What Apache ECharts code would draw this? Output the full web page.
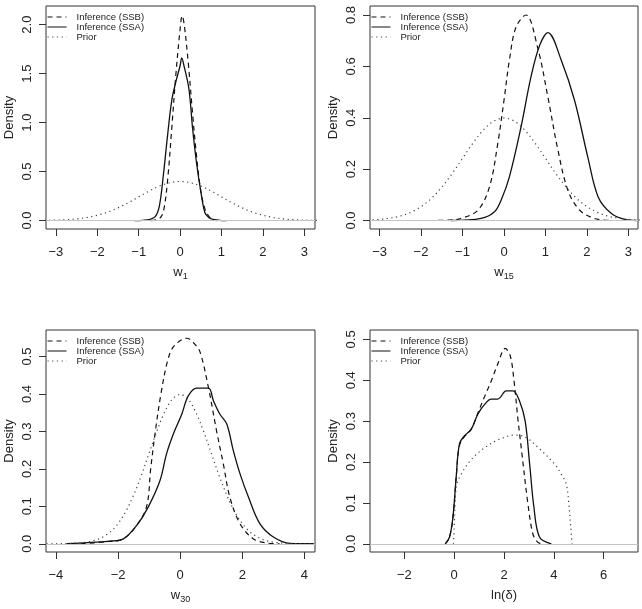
<!DOCTYPE html>
<html>
<head>
<meta charset="utf-8">
<script src="https://cdn.jsdelivr.net/npm/echarts@6/dist/echarts.min.js"></script>
<style>
  html, body { margin: 0; padding: 0; background: #fff; }
  #chart { width: 642px; height: 609px; }
</style>
</head>
<body>
<div id="chart"></div>
<script>
const priorX = [-4.3, -4, -3.5, -3, -2.75, -2.5, -2.25, -2, -1.75, -1.5, -1.25, -1, -0.75, -0.5, -0.25, 0,
  0.25, 0.5, 0.75, 1, 1.25, 1.5, 1.75, 2, 2.25, 2.5, 2.75, 3, 3.5, 4, 4.3];
const priorY = [0, 0.0001, 0.0009, 0.0044, 0.0091, 0.0175, 0.0317, 0.054, 0.0863, 0.13, 0.1826, 0.242, 0.3011, 0.352, 0.3867, 0.399,
  0.3867, 0.352, 0.3011, 0.242, 0.1826, 0.13, 0.0863, 0.054, 0.0317, 0.0175, 0.0091, 0.0044, 0.0009, 0.0001, 0];

// w1
const w1SsbX = [-0.7, -0.5, -0.4, -0.3, -0.2, -0.1, 0, 0.05, 0.1, 0.2, 0.3, 0.4, 0.5, 0.6, 0.7, 0.8, 0.9];
const w1SsbY = [0, 0.02, 0.1, 0.42, 0.95, 1.5, 1.95, 2.09, 2.0, 1.6, 1.1, 0.65, 0.3, 0.12, 0.04, 0.01, 0];
const w1SsaX = [-1.1, -0.9, -0.75, -0.6, -0.5, -0.4, -0.3, -0.2, -0.1, 0, 0.04, 0.1, 0.2, 0.25, 0.3, 0.4, 0.5, 0.6, 0.7, 0.8, 0.95, 1.12];
const w1SsaY = [0, 0.003, 0.01, 0.04, 0.15, 0.48, 0.88, 1.23, 1.42, 1.58, 1.66, 1.57, 1.38, 1.2, 0.95, 0.58, 0.3, 0.08, 0.03, 0.012, 0.003, 0];

// w15
const w15SsbX = [-1.8, -1.3, -1.04, -0.63, -0.35, -0.15, 0, 0.13, 0.29, 0.53, 0.82, 1.06, 1.3, 1.54, 1.82, 2.18, 2.6];
const w15SsbY = [0, 0.002, 0.008, 0.04, 0.131, 0.3, 0.468, 0.624, 0.753, 0.8, 0.667, 0.479, 0.274, 0.118, 0.041, 0.008, 0];
const w15SsaX = [-1.28, -0.55, -0.23, -0.07, 0.13, 0.41, 0.65, 0.86, 1.06, 1.38, 1.7, 2.02, 2.27, 2.59, 2.91, 3.2];
const w15SsaY = [0, 0.008, 0.034, 0.079, 0.17, 0.364, 0.559, 0.682, 0.731, 0.624, 0.468, 0.247, 0.092, 0.027, 0.004, 0];

// w30
const w30SsbX = [-3.2, -2.3, -1.83, -1.4, -1.08, -0.95, -0.8, -0.62, -0.4, -0.2, 0.21, 0.45, 0.64, 0.91, 1.17, 1.39, 1.6, 1.93, 2.36, 2.79, 3.2];
const w30SsbY = [0, 0.006, 0.013, 0.049, 0.1, 0.2, 0.3, 0.4, 0.49, 0.528, 0.549, 0.535, 0.512, 0.417, 0.302, 0.213, 0.124, 0.053, 0.013, 0.002, 0];
const w30SsaX = [-3.66, -2.26, -1.83, -1.4, -1.03, -0.65, -0.44, -0.22, 0.05, 0.26, 0.53, 0.91, 1.07, 1.28, 1.5, 1.71, 1.93, 2.2, 2.57, 3.0, 3.54, 4.3];
const w30SsaY = [0, 0.007, 0.013, 0.049, 0.098, 0.169, 0.24, 0.293, 0.346, 0.395, 0.416, 0.416, 0.382, 0.346, 0.32, 0.249, 0.186, 0.124, 0.053, 0.018, 0.001, 0];

// ln(delta)
const lnSsbX = [-0.36, -0.19, -0.05, 0.08, 0.21, 0.41, 0.68, 0.95, 1.22, 1.5, 1.75, 2.05, 2.25, 2.4, 2.55, 2.69, 2.96, 3.16, 3.35, 3.5];
const lnSsbY = [0, 0.016, 0.065, 0.163, 0.24, 0.262, 0.28, 0.32, 0.36, 0.4, 0.44, 0.478, 0.46, 0.4, 0.31, 0.236, 0.098, 0.024, 0.004, 0];
const lnSsaX = [-0.36, -0.19, -0.05, 0.08, 0.21, 0.41, 0.68, 0.95, 1.22, 1.49, 1.75, 2.09, 2.36, 2.62, 2.85, 3.03, 3.2, 3.43, 3.9];
const lnSsaY = [0, 0.016, 0.065, 0.163, 0.244, 0.264, 0.28, 0.317, 0.341, 0.354, 0.354, 0.374, 0.374, 0.35, 0.3, 0.195, 0.09, 0.016, 0];
const lnPriorX = [-0.03, 0, 0.04, 0.1, 0.28, 0.6, 0.95, 1.3, 1.62, 2.0, 2.36, 2.82, 3.36, 4.03, 4.3, 4.5, 4.6, 4.68, 4.73];
const lnPriorY = [0, 0.04, 0.1, 0.145, 0.17, 0.2, 0.222, 0.238, 0.25, 0.26, 0.266, 0.262, 0.236, 0.195, 0.17, 0.146, 0.1, 0.04, 0];

// tick values
const xTicksW = [-3, -2, -1, 0, 1, 2, 3];
const xTicksW30 = [-4, -2, 0, 2, 4];
const xTicksLn = [-2, 0, 2, 4, 6];
const yTicksW1 = [0, 0.5, 1, 1.5, 2];
const yTicksW15 = [0, 0.2, 0.4, 0.6, 0.8];
const yTicksTenth = [0, 0.1, 0.2, 0.3, 0.4, 0.5];

const FONT = '"Liberation Sans", Arial, sans-serif';
const INK = '#222';

const zip = (xs, ys) => xs.map((x, i) => [x, ys[i]]);

const panels = [
  { box: { left: 46, top: 6, width: 269, height: 223 }, xMin: -3.24, xMax: 3.26, yMin: -0.086, yMax: 2.19,
    xTicks: xTicksW, yTicks: yTicksW1, xName: '{a|w}{b|1}',
    ssb: zip(w1SsbX, w1SsbY), ssa: zip(w1SsaX, w1SsaY), prior: zip(priorX, priorY) },
  { box: { left: 370, top: 6, width: 268, height: 223 }, xMin: -3.23, xMax: 3.23, yMin: -0.033, yMax: 0.835,
    xTicks: xTicksW, yTicks: yTicksW15, xName: '{a|w}{b|15}',
    ssb: zip(w15SsbX, w15SsbY), ssa: zip(w15SsaX, w15SsaY), prior: zip(priorX, priorY) },
  { box: { left: 46, top: 330, width: 269, height: 222 }, xMin: -4.32, xMax: 4.34, yMin: -0.022, yMax: 0.571,
    xTicks: xTicksW30, yTicks: yTicksTenth, xName: '{a|w}{b|30}',
    ssb: zip(w30SsbX, w30SsbY), ssa: zip(w30SsaX, w30SsaY), prior: zip(priorX, priorY) },
  { box: { left: 370, top: 330, width: 268, height: 222 }, xMin: -3.38, xMax: 7.38, yMin: -0.02, yMax: 0.523,
    xTicks: xTicksLn, yTicks: yTicksTenth, xName: '{a|ln(δ)}',
    ssb: zip(lnSsbX, lnSsbY), ssa: zip(lnSsaX, lnSsaY), prior: zip(lnPriorX, lnPriorY) }
];

const grids = [], xAxes = [], yAxes = [], series = [], legends = [];

panels.forEach((p, i) => {
  grids.push(Object.assign({ show: true, borderColor: '#333', borderWidth: 1, backgroundColor: 'transparent' }, p.box));

  // axes sit on the box edges like R, not on zero
  xAxes.push({
    gridIndex: i, type: 'value', min: p.xMin, max: p.xMax,
    axisLine: { show: false, onZero: false },
    axisTick: { show: true, length: 7, lineStyle: { color: '#333' }, customValues: p.xTicks },
    axisLabel: { customValues: p.xTicks, margin: 17, fontSize: 13, fontFamily: FONT, color: INK,
      formatter: v => (v < 0 ? '\u2212' + Math.abs(v) : String(v)) },
    splitLine: { show: false },
    name: p.xName, nameLocation: 'middle', nameGap: 34,
    nameTextStyle: { rich: {
      a: { fontSize: 13, fontFamily: FONT, color: INK, lineHeight: 18, verticalAlign: 'middle' },
      b: { fontSize: 9, fontFamily: FONT, color: INK, lineHeight: 8, verticalAlign: 'bottom' }
    } }
  });

  yAxes.push({
    gridIndex: i, type: 'value', min: p.yMin, max: p.yMax,
    axisLine: { show: false, onZero: false },
    axisTick: { show: true, length: 7, lineStyle: { color: '#333' }, customValues: p.yTicks },
    axisLabel: { customValues: p.yTicks, rotate: 90, margin: 12, fontSize: 13, fontFamily: FONT, color: INK,
      formatter: v => v.toFixed(1) },
    splitLine: { show: false },
    name: 'Density', nameLocation: 'middle', nameGap: 30, nameRotate: 90,
    nameTextStyle: { fontSize: 13, fontFamily: FONT, color: INK }
  });

  const common = { type: 'line', xAxisIndex: i, yAxisIndex: i, symbol: 'none', showSymbol: false,
    smooth: 0.35, animation: false, itemStyle: { color: '#111' } };
  series.push(Object.assign({}, common, {
    name: 'Inference (SSB)', data: p.ssb,
    lineStyle: { color: '#111', width: 1.2, type: [5, 4] },
    markLine: { silent: true, symbol: 'none', label: { show: false },
      lineStyle: { color: '#c4c4c4', width: 1, type: 'solid' }, data: [{ yAxis: 0 }] }
  }));
  series.push(Object.assign({}, common, {
    name: 'Inference (SSA)', data: p.ssa,
    lineStyle: { color: '#111', width: 1.3, type: 'solid' }
  }));
  series.push(Object.assign({}, common, {
    name: 'Prior', data: p.prior,
    lineStyle: { color: '#444', width: 1.2, type: [1.2, 3.5] }
  }));

  legends.push({
    orient: 'vertical', left: p.box.left + 1, top: p.box.top + 6,
    padding: 0, itemGap: 0, itemWidth: 19, itemHeight: 12,
    data: ['Inference (SSB)', 'Inference (SSA)', 'Prior'],
    itemStyle: { opacity: 0 },
    lineStyle: { width: 1 },
    textStyle: { fontSize: 9.5, fontFamily: FONT, color: INK, padding: [0, 0, 0, 5] },
    selectedMode: false
  });
});

const chart = echarts.init(document.getElementById('chart'), null, { renderer: 'canvas' });
chart.setOption({
  animation: false,
  backgroundColor: '#fff',
  grid: grids,
  xAxis: xAxes,
  yAxis: yAxes,
  legend: legends,
  series: series
});
</script>
</body>
</html>
